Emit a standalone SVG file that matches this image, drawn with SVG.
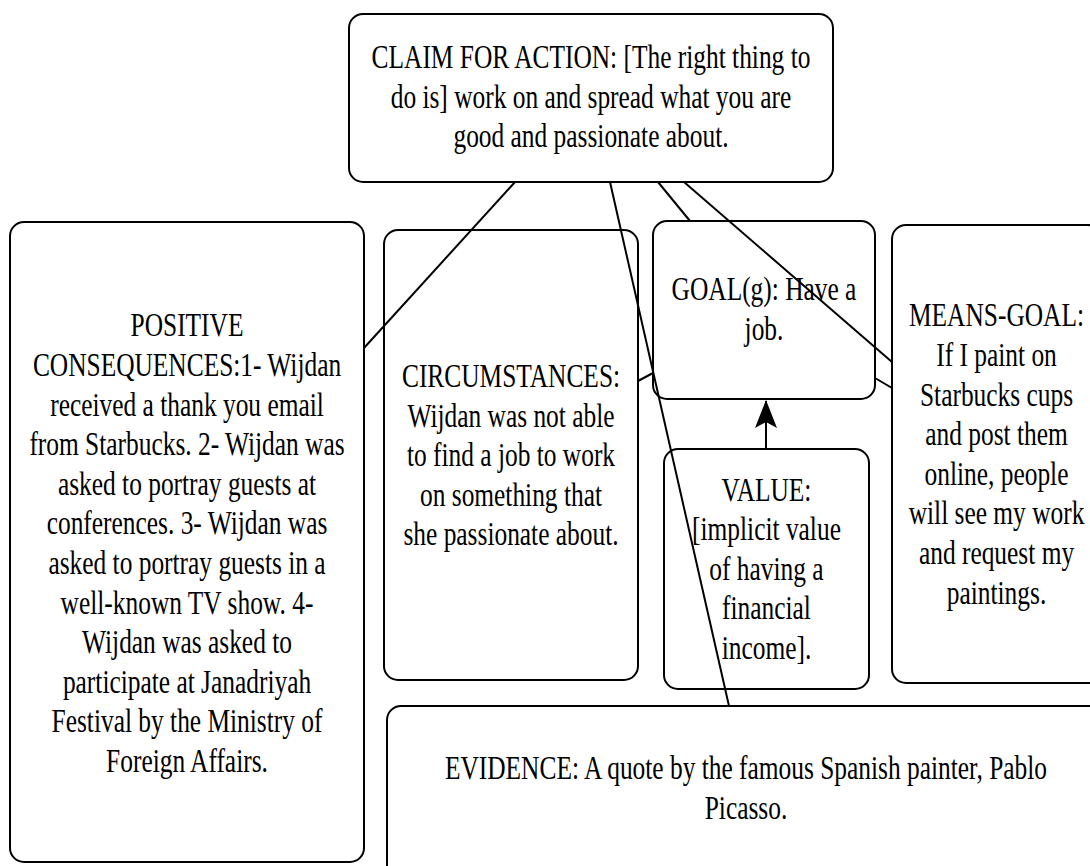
<svg xmlns="http://www.w3.org/2000/svg" width="1090" height="866" viewBox="0 0 1090 866">
<style>
.box{fill:#fff;stroke:#000;stroke-width:2}
.t{font-family:'Liberation Serif','Times New Roman',serif;font-size:33px;fill:#000;text-anchor:middle}
.c{stroke:#000;stroke-width:2;fill:none}
</style>
<defs>
<marker id="ah" viewBox="0 0 28 22" refX="27" refY="11" markerWidth="28" markerHeight="22" markerUnits="userSpaceOnUse" orient="auto">
<path d="M28 11 L0 0 L6 11 L0 22 Z" fill="#000"/>
</marker>
</defs>
<rect width="1090" height="866" fill="#fff"/>
<g id="claim">
<rect class="box" x="349" y="14" width="484" height="168" rx="14"/>
<text class="t" transform="translate(591 0) scale(0.77 1)"><tspan x="0" y="68">CLAIM FOR ACTION: [The right thing to</tspan><tspan x="0" y="107.6">do is] work on and spread what you are</tspan><tspan x="0" y="147.2">good and passionate about.</tspan></text>
</g>
<g id="positive">
<rect class="box" x="10" y="222" width="354" height="640" rx="14"/>
<text class="t" transform="translate(187 0) scale(0.77 1)"><tspan x="0" y="336.4">POSITIVE</tspan><tspan x="0" y="376">CONSEQUENCES:1- Wijdan</tspan><tspan x="0" y="415.6">received a thank you email</tspan><tspan x="0" y="455.2">from Starbucks. 2- Wijdan was</tspan><tspan x="0" y="494.8">asked to portray guests at</tspan><tspan x="0" y="534.4">conferences. 3- Wijdan was</tspan><tspan x="0" y="574">asked to portray guests in a</tspan><tspan x="0" y="613.6">well-known TV show. 4-</tspan><tspan x="0" y="653.2">Wijdan was asked to</tspan><tspan x="0" y="692.8">participate at Janadriyah</tspan><tspan x="0" y="732.4">Festival by the Ministry of</tspan><tspan x="0" y="772">Foreign Affairs.</tspan></text>
</g>
<g id="circumstances">
<rect class="box" x="384" y="230" width="254" height="450" rx="14"/>
<text class="t" transform="translate(511 0) scale(0.77 1)"><tspan x="0" y="387">CIRCUMSTANCES:</tspan><tspan x="0" y="426.6">Wijdan was not able</tspan><tspan x="0" y="466.2">to find a job to work</tspan><tspan x="0" y="505.8">on something that</tspan><tspan x="0" y="545.4">she passionate about.</tspan></text>
</g>
<g id="goal">
<rect class="box" x="653" y="221" width="222" height="178" rx="14"/>
<text class="t" transform="translate(764 0) scale(0.77 1)"><tspan x="0" y="300">GOAL(g): Have a</tspan><tspan x="0" y="339.6">job.</tspan></text>
</g>
<g id="means-goal">
<rect class="box" x="892" y="225" width="210" height="458" rx="14"/>
<text class="t" transform="translate(996.5 0) scale(0.77 1)"><tspan x="0" y="326.4">MEANS-GOAL:</tspan><tspan x="0" y="366">If I paint on</tspan><tspan x="0" y="405.6">Starbucks cups</tspan><tspan x="0" y="445.2">and post them</tspan><tspan x="0" y="484.8">online, people</tspan><tspan x="0" y="524.4">will see my work</tspan><tspan x="0" y="564">and request my</tspan><tspan x="0" y="603.6">paintings.</tspan></text>
</g>
<g id="value">
<rect class="box" x="664" y="449" width="205" height="240" rx="14"/>
<text class="t" transform="translate(766.5 0) scale(0.77 1)"><tspan x="0" y="500.6">VALUE:</tspan><tspan x="0" y="540.2">[implicit value</tspan><tspan x="0" y="579.8">of having a</tspan><tspan x="0" y="619.4">financial</tspan><tspan x="0" y="659">income].</tspan></text>
</g>
<g id="evidence">
<rect class="box" x="387" y="706" width="718" height="180" rx="14"/>
<text class="t" transform="translate(746 0) scale(0.77 1)"><tspan x="0" y="779.3">EVIDENCE: A quote by the famous Spanish painter, Pablo</tspan><tspan x="0" y="818.9">Picasso.</tspan></text>
</g>
<g id="connectors">
<line class="c" x1="515" y1="182" x2="364" y2="348"/>
<line class="c" x1="610" y1="182" x2="729" y2="706"/>
<line class="c" x1="658" y1="182" x2="690" y2="221"/>
<line class="c" x1="684" y1="182" x2="892" y2="362"/>
<line class="c" x1="875" y1="378" x2="892" y2="388"/>
<line class="c" x1="638" y1="381" x2="653" y2="373"/>
<line class="c" x1="766" y1="449" x2="766" y2="401" marker-end="url(#ah)"/>
</g>
</svg>
